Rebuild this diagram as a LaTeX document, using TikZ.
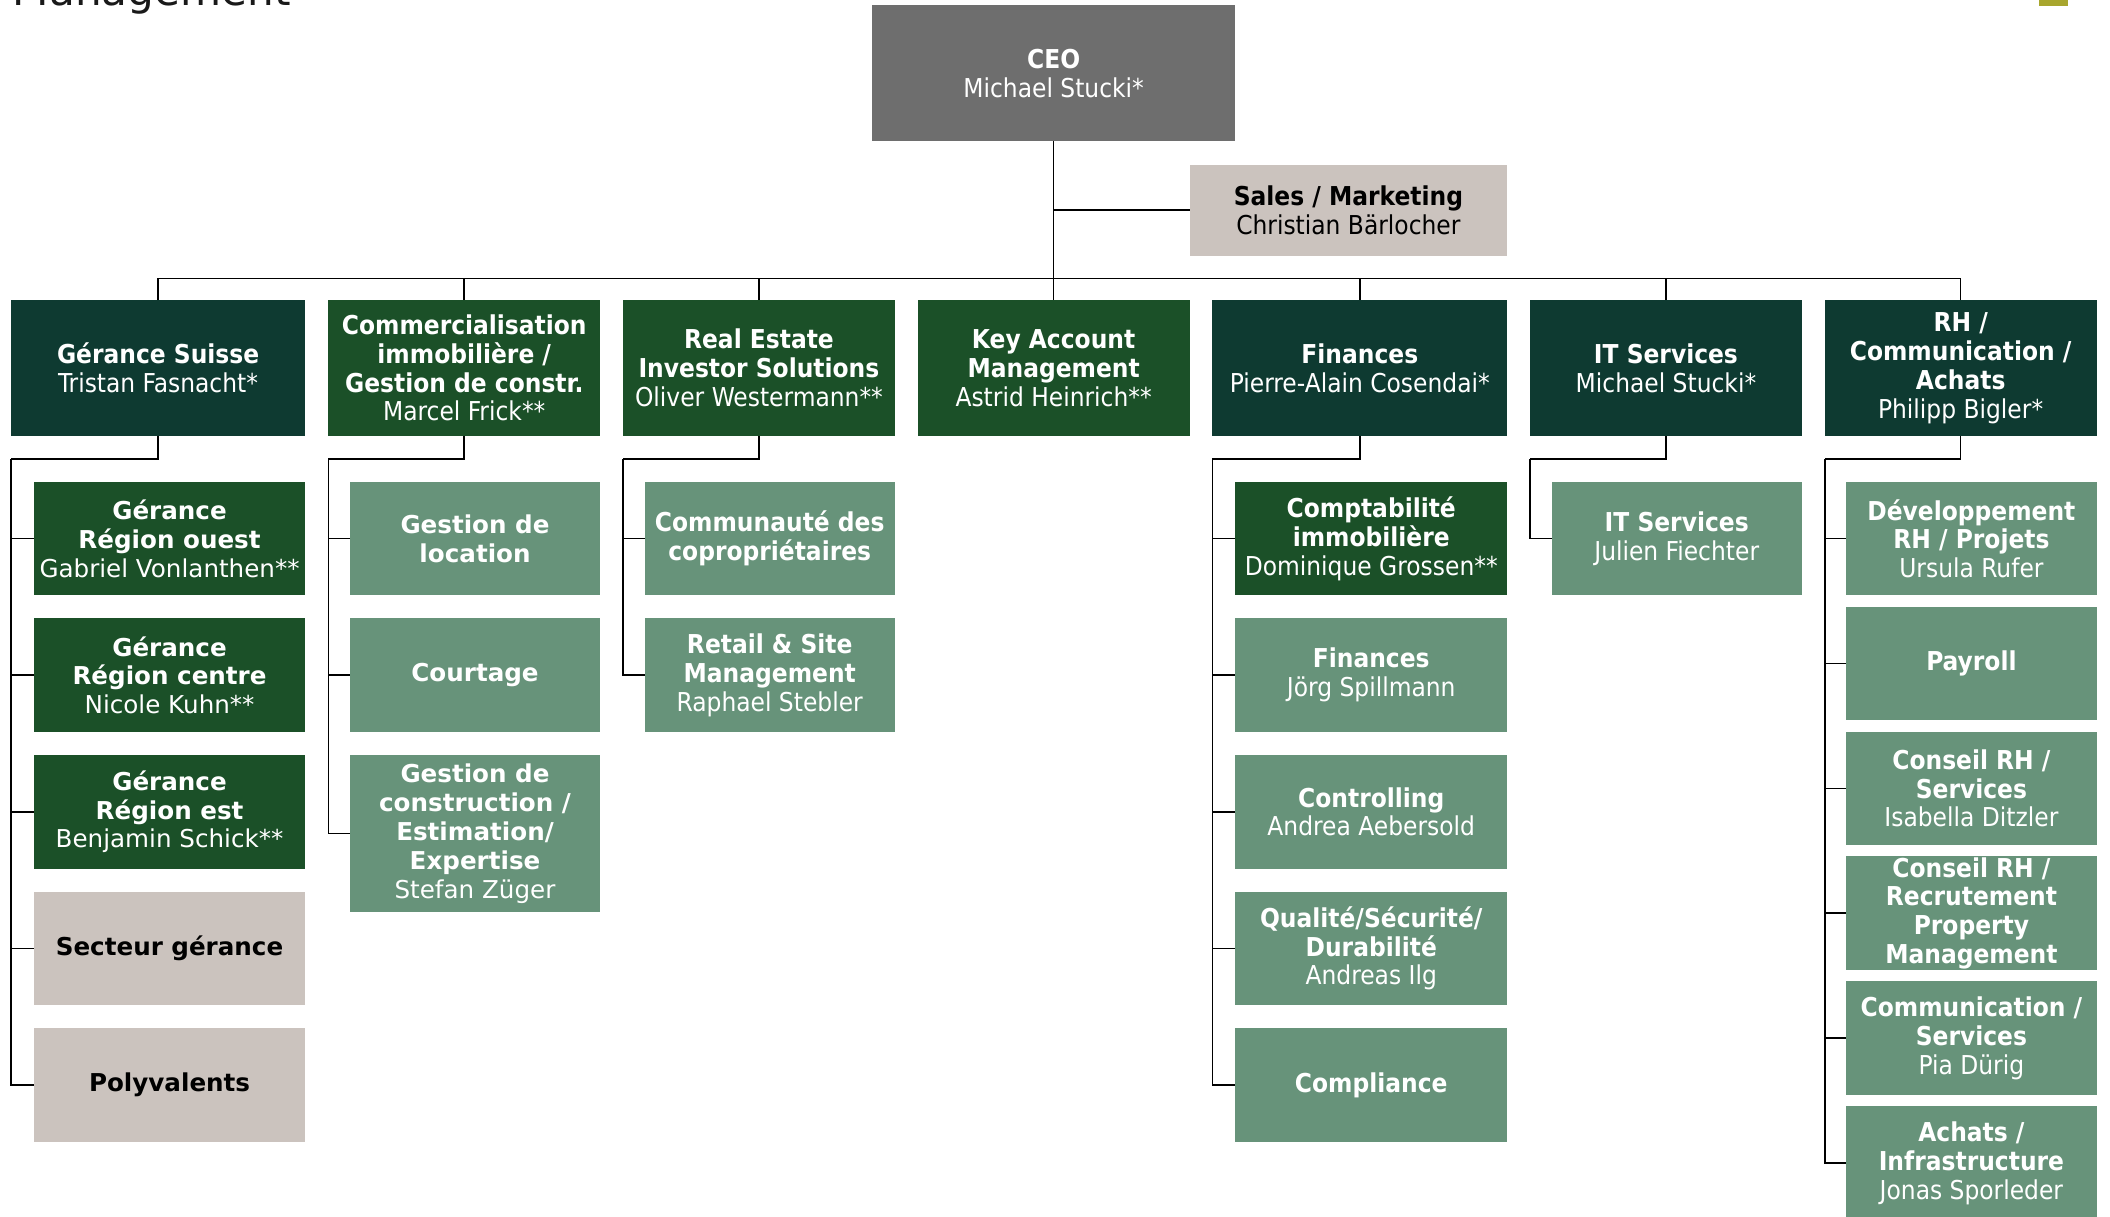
\documentclass[tikz,border=0pt]{standalone}
\usepackage{fontspec}
\usetikzlibrary{positioning}
\setmainfont{DejaVu Sans}
\newfontfamily\tahoma{DejaVu Sans Condensed}[BoldFont={DejaVu Sans Condensed Bold}]
\newfontfamily\verdana{DejaVu Sans}
\newlength\px
\setlength\px{0.013457cm}
\definecolor{ceogray}{HTML}{6E6E6E}
\definecolor{beige}{HTML}{CBC3BE}
\definecolor{deepteal}{HTML}{0E3A31}
\definecolor{bosgreen}{HTML}{1B5028}
\definecolor{sage}{HTML}{67937A}
\definecolor{olivebox}{HTML}{A8A62E}

\begin{document}
\begin{tikzpicture}[x=\px, y=-\px, node distance=17\px,
	box/.style={rectangle, inner sep=0pt, outer sep=0pt, align=center, text=white, minimum height=84.5\px,
		font=\tahoma\fontsize{7.4}{8.2}\selectfont},
	head/.style={box, minimum width=202\px, minimum height=101\px, anchor=north west},
	sub/.style={box, minimum width=186\px},
	vsub/.style={sub, font=\verdana\fontsize{7}{8.2}\selectfont},
	conn/.style={draw=black, line width=0.45pt},
	elbow/.style={to path={|- (\tikztotarget)}},
	drop/.style={to path={-| (\tikztotarget)}}]
	
	\useasboundingbox (0,0) rectangle (1568,904);
	
	\node[anchor=base west, inner sep=0pt, text=black!90,
		font=\verdana\fontsize{12}{12}\selectfont] (title) at (9,4) {Management};
	\fill[olivebox] (1515,0) rectangle (1537,4.5);
	
	% first row
	\node[head, fill=deepteal, minimum width=219\px] (gs) at (8,223) {\textbf{Gérance Suisse}\\Tristan Fasnacht*};
	\node[head, fill=bosgreen, right=of gs] (ci) {\textbf{Commercialisation}\\\textbf{immobilière /}\\\textbf{Gestion de constr.}\\Marcel Frick**};
	\node[head, fill=bosgreen, right=of ci] (re) {\textbf{Real Estate}\\\textbf{Investor Solutions}\\Oliver Westermann**};
	\node[head, fill=bosgreen, right=of re] (ka) {\textbf{Key Account}\\\textbf{Management}\\Astrid Heinrich**};
	\node[head, fill=deepteal, minimum width=219\px, right=of ka] (fi) {\textbf{Finances}\\Pierre-Alain Cosendai*};
	\node[head, fill=deepteal, right=of fi] (it) {\textbf{IT Services}\\Michael Stucki*};
	\node[head, fill=deepteal, right=of it] (rh) {\textbf{RH /}\\\textbf{Communication /}\\\textbf{Achats}\\Philipp Bigler*};
	
	\node[box, fill=ceogray, minimum width=270\px, minimum height=101\px, above=118\px of ka] (ceo) {\textbf{CEO}\\Michael Stucki*};
	\node[box, fill=beige, text=black, minimum width=236\px, minimum height=67.5\px, anchor=north west] (sales) at (884,122.5) {\textbf{Sales / Marketing}\\Christian Bärlocher};
	
	% Gérance Suisse
	\node[vsub, fill=bosgreen, minimum width=202\px, anchor=north east] (gs1) at ([yshift=-34\px]gs.south east) {\textbf{Gérance}\\\textbf{Région ouest}\\Gabriel Vonlanthen**};
	\node[vsub, fill=bosgreen, minimum width=202\px, below=of gs1] (gs2) {\textbf{Gérance}\\\textbf{Région centre}\\Nicole Kuhn**};
	\node[vsub, fill=bosgreen, minimum width=202\px, below=of gs2] (gs3) {\textbf{Gérance}\\\textbf{Région est}\\Benjamin Schick**};
	\node[vsub, fill=beige, text=black, minimum width=202\px, below=of gs3] (gs4) {\textbf{Secteur gérance}};
	\node[vsub, fill=beige, text=black, minimum width=202\px, below=of gs4] (gs5) {\textbf{Polyvalents}};
	
	% Commercialisation
	\node[vsub, fill=sage, anchor=north east] (ci1) at ([yshift=-34\px]ci.south east) {\textbf{Gestion de}\\\textbf{location}};
	\node[vsub, fill=sage, below=of ci1] (ci2) {\textbf{Courtage}};
	\node[vsub, fill=sage, minimum height=117\px, below=of ci2] (ci3) {\textbf{Gestion de}\\\textbf{construction /}\\\textbf{Estimation/}\\\textbf{Expertise}\\Stefan Züger};
	
	% Real Estate Investor Solutions
	\node[sub, fill=sage, anchor=north east] (re1) at ([yshift=-34\px]re.south east) {\textbf{Communauté des}\\\textbf{copropriétaires}};
	\node[sub, fill=sage, below=of re1] (re2) {\textbf{Retail \& Site}\\\textbf{Management}\\Raphael Stebler};
	
	% Finances
	\node[sub, fill=bosgreen, minimum width=202\px, anchor=north east] (fi1) at ([yshift=-34\px]fi.south east) {\textbf{Comptabilité}\\\textbf{immobilière}\\Dominique Grossen**};
	\node[sub, fill=sage, minimum width=202\px, below=of fi1] (fi2) {\textbf{Finances}\\Jörg Spillmann};
	\node[sub, fill=sage, minimum width=202\px, below=of fi2] (fi3) {\textbf{Controlling}\\Andrea Aebersold};
	\node[sub, fill=sage, minimum width=202\px, below=of fi3] (fi4) {\textbf{Qualité/Sécurité/}\\\textbf{Durabilité}\\Andreas Ilg};
	\node[sub, fill=sage, minimum width=202\px, below=of fi4] (fi5) {\textbf{Compliance}};
	
	% IT Services
	\node[sub, fill=sage, anchor=north east] (it1) at ([yshift=-34\px]it.south east) {\textbf{IT Services}\\Julien Fiechter};
	
	% RH
	\node[sub, fill=sage, anchor=north east] (rh1) at ([yshift=-34\px]rh.south east) {\textbf{Développement}\\\textbf{RH / Projets}\\Ursula Rufer};
	\node[sub, fill=sage, below=8.3\px of rh1] (rh2) {\textbf{Payroll}};
	\node[sub, fill=sage, below=8.3\px of rh2] (rh3) {\textbf{Conseil RH /}\\\textbf{Services}\\Isabella Ditzler};
	\node[sub, fill=sage, below=8.3\px of rh3] (rh4) {\textbf{Conseil RH /}\\\textbf{Recrutement}\\\textbf{Property}\\\textbf{Management}};
	\node[sub, fill=sage, below=8.3\px of rh4] (rh5) {\textbf{Communication /}\\\textbf{Services}\\Pia Dürig};
	\node[sub, fill=sage, below=8.3\px of rh5] (rh6) {\textbf{Achats /}\\\textbf{Infrastructure}\\Jonas Sporleder};
	
	% lines
	\coordinate (bus) at ([yshift=-102\px]ceo.south);
	\draw[conn] (ceo.south) -- (bus);
	\draw[conn] (sales.west) -- (sales.west -| ceo.south);
	\draw[conn] (gs.north) |- (bus) -| (rh.north);
	\draw[conn] (bus) edge[drop] (ci.north) edge[drop] (re.north) edge[drop] (ka.north)
		edge[drop] (fi.north) edge[drop] (it.north);
	
	\coordinate (gsk) at ([yshift=-17\px]gs.south west);
	\draw[conn] (gs.south) |- (gsk) edge[elbow] (gs1.west) edge[elbow] (gs2.west)
		edge[elbow] (gs3.west) edge[elbow] (gs4.west) edge[elbow] (gs5.west);
	\coordinate (cik) at ([yshift=-17\px]ci.south west);
	\draw[conn] (ci.south) |- (cik) edge[elbow] (ci1.west) edge[elbow] (ci2.west) edge[elbow] (ci3.west);
	\coordinate (rek) at ([yshift=-17\px]re.south west);
	\draw[conn] (re.south) |- (rek) edge[elbow] (re1.west) edge[elbow] (re2.west);
	\coordinate (fik) at ([yshift=-17\px]fi.south west);
	\draw[conn] (fi.south) |- (fik) edge[elbow] (fi1.west) edge[elbow] (fi2.west)
		edge[elbow] (fi3.west) edge[elbow] (fi4.west) edge[elbow] (fi5.west);
	\coordinate (itk) at ([yshift=-17\px]it.south west);
	\draw[conn] (it.south) |- (itk) edge[elbow] (it1.west);
	\coordinate (rhk) at ([yshift=-17\px]rh.south west);
	\draw[conn] (rh.south) |- (rhk) edge[elbow] (rh1.west) edge[elbow] (rh2.west)
		edge[elbow] (rh3.west) edge[elbow] (rh4.west) edge[elbow] (rh5.west) edge[elbow] (rh6.west);
	
\end{tikzpicture}
\end{document}
